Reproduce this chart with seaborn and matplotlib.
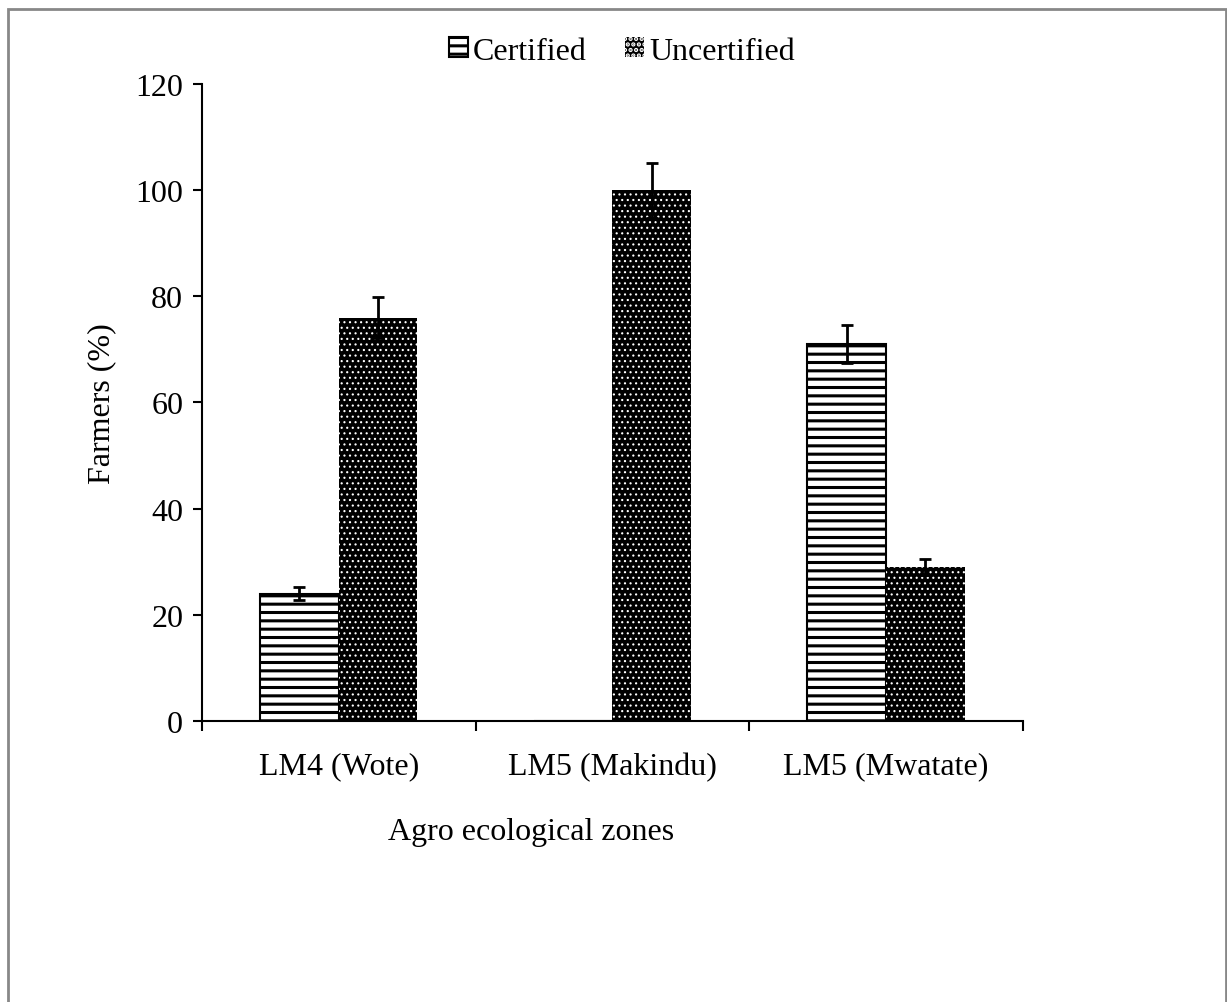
import pandas as pd
import seaborn as sns
import matplotlib.pyplot as plt
import matplotlib.patches as mpatches

# data
zones = ["LM4 (Wote)", "LM5 (Makindu)", "LM5 (Mwatate)"]
groups = ["Certified", "Uncertified"]
certified = [24, 0, 71]
uncertified = [76, 100, 29]
certified_err = [1.2, 0, 3.6]
uncertified_err = [3.8, 5.2, 1.5]

df = pd.DataFrame({
    "zone": zones * 2,
    "group": [groups[0]] * 3 + [groups[1]] * 3,
    "value": certified + uncertified,
})

sns.set_style("white")
plt.rcParams['font.family'] = ['Liberation Serif', 'DejaVu Serif']
plt.rcParams['text.color'] = 'black'
plt.rcParams['axes.labelcolor'] = 'black'
plt.rcParams['xtick.color'] = 'black'
plt.rcParams['ytick.color'] = 'black'
plt.rcParams['hatch.linewidth'] = 2.2


def dotted(p):
    p.set_facecolor("black")
    p.set_edgecolor("white")
    p.set_linewidth(0)
    p.set_hatch("...")
    if hasattr(p, "set_hatch_linewidth"):
        p.set_hatch_linewidth(0.8)


fig = plt.figure(figsize=(12.27, 10.03), dpi=100)
ax = fig.add_axes([0.1646, 0.2802, 0.6691, 0.6351])

sns.barplot(data=df, x="zone", y="value", hue="group", order=zones,
            hue_order=groups, width=0.575, gap=0, errorbar=None,
            legend=False, ax=ax)

errs = [certified_err, uncertified_err]
bar_groups = list(ax.containers)
for i, cont in enumerate(bar_groups):
    for j, bar in enumerate(cont):
        if i == 0:
            bar.set_facecolor("white")
            bar.set_edgecolor("black")
            bar.set_linewidth(1.5)
            bar.set_hatch("--")
        else:
            dotted(bar)
        cx = bar.get_x() + bar.get_width() / 2
        if errs[i][j] > 0:
            ax.errorbar(cx, bar.get_height(), yerr=errs[i][j], color="black",
                        capsize=4.5, capthick=2, elinewidth=2, zorder=5)

ax.set_ylim(0, 120)
ax.set_yticks(range(0, 121, 20))
ax.set_xlim(-0.5, 2.5)
ax.set_xticks([-0.5, 0.5, 1.5, 2.5], minor=True)
ax.tick_params(axis="x", which="major", length=0, pad=22, labelsize=23)
ax.tick_params(axis="x", which="minor", length=7, width=1.5, direction="out",
               color="black", bottom=True)
ax.tick_params(axis="y", length=6.5, width=1.5, direction="out", pad=7,
               labelsize=23, color="black", left=True)
for s in ["top", "right"]:
    ax.spines[s].set_visible(False)
for s in ["left", "bottom"]:
    ax.spines[s].set_color("black")
    ax.spines[s].set_linewidth(1.5)

ax.set_xlabel("")
ax.set_ylabel("Farmers (%)", fontsize=23, labelpad=14)
fig.text(531 / 1227, 1 - 833 / 1003, "Agro ecological zones", fontsize=23,
         ha="center", va="center")

cert_handle = mpatches.Patch(facecolor="white", edgecolor="black", hatch="--",
                             linewidth=1.5, label="Certified")
uncert_handle = mpatches.Patch(label="Uncertified")
dotted(uncert_handle)
fig.legend(handles=[cert_handle, uncert_handle], loc="center", ncol=2,
           frameon=False, bbox_to_anchor=(622 / 1227, 1 - 52 / 1003),
           fontsize=23, handlelength=0.6, handleheight=0.6,
           handletextpad=0.15, columnspacing=1.2)

# grey frame around the chart area
frame = mpatches.Rectangle((8 / 1227, -0.05), (1226 - 8) / 1227, 1.05 - 10 / 1003,
                           transform=fig.transFigure, fill=False,
                           edgecolor="#888888", linewidth=2)
fig.add_artist(frame)

fig.savefig("out.png", dpi=100)
